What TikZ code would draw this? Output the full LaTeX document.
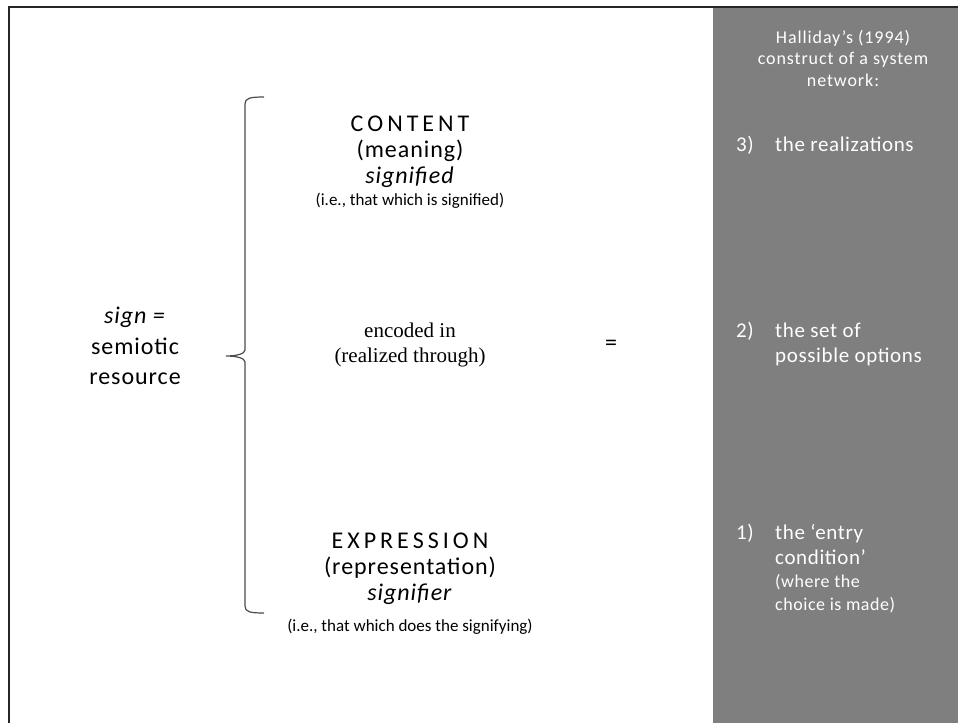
\documentclass[tikz,border=0pt]{standalone}
\usepackage{fontspec}
\setmainfont{Carlito}
\newfontfamily\timesfont{Liberation Serif}
\usetikzlibrary{positioning}
\definecolor{panelgray}{HTML}{7F7F7F}
\newcommand{\itemno}[1]{\makebox[39pt][l]{#1}}

\begin{document}
\begin{tikzpicture}[x=1pt,y=-1pt,node distance=49pt]
\tikzstyle{big} = [align=center, inner sep=0pt, font=\fontsize{24}{26}\selectfont\addfontfeature{LetterSpace=4}]
\tikzstyle{note} = [align=center, inner sep=0pt, font=\fontsize{17}{20}\selectfont]
\tikzstyle{serifbox} = [align=center, inner sep=0pt, font=\timesfont\fontsize{21}{25}\selectfont]
\tikzstyle{head} = [align=center, inner sep=0pt, text=white, font=\fontsize{18}{21.5}\selectfont\addfontfeature{LetterSpace=5}]
\tikzstyle{item} = [align=left, anchor=west, inner sep=0pt, text=white, font=\fontsize{21}{25}\selectfont\addfontfeature{LetterSpace=3}]
\tikzstyle{itemnote} = [align=left, anchor=west, inner sep=0pt, text=white, font=\fontsize{18}{23}\selectfont\addfontfeature{LetterSpace=3}]
\tikzstyle{frame} = [line width=1.2pt, black!85]
\tikzstyle{brace} = [line width=1.2pt, black!70]
\useasboundingbox (0,0) rectangle (958,723);
\fill[panelgray] (713,8) rectangle (958,723);
\draw[frame] (9,723) -- (9,7) -- (958,7);

\node[big, font=\fontsize{24}{30.5}\selectfont\addfontfeature{LetterSpace=4}] (sign) at (135,346) {\textit{sign =}\\semiotic\\resource};
\draw[brace] (264,97) .. controls (250,97) and (245,98) .. (245,104) -- (245,350)
      .. controls (245,354) and (236,356) .. (226,356)
      .. controls (236,356) and (245,358) .. (245,362) -- (245,606)
      .. controls (245,612) and (250,613) .. (264,613);

\node[big] (content) at (410,152) {C\,O\,N\,T\,E\,N\,T\\(meaning)\\\textit{signified}};
\node[note, below of=content] (contentnote) {(i.e., that which is signified)};
\node[serifbox] (encoded) at (410,345) {encoded in\\(realized through)};
\node[big] (equals) at (611,345) {=};
\node[big] (expression) at (410,569) {E\,X\,P\,R\,E\,S\,S\,I\,O\,N\\(representation)\\\textit{signifier}};
\node[note, below of=expression, node distance=58pt] (expressionnote) {(i.e., that which does the signifying)};

\node[head] (halliday) at (843,58) {Halliday’s (1994)\\construct of a system\\network:};
\node[item] (realizations) at (736,145) {\itemno{3)}the realizations};
\node[item] (options) at (736,344.5) {\itemno{2)}the set of\\\itemno{}possible options};
\node[item] (entry) at (736,544.5) {\itemno{1)}the ‘entry\\\itemno{}condition’};
\node[itemnote] (choice) at ([xshift=39pt,yshift=-49pt]entry.west) {(where the\\choice is made)};
\end{tikzpicture}
\end{document}
